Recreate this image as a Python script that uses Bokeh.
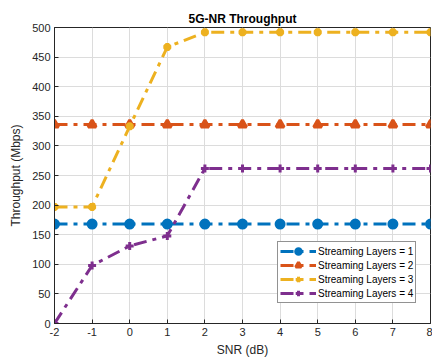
from bokeh.plotting import figure
from bokeh.models import Legend, LegendItem, FixedTicker, Range1d
from bokeh.embed import file_html
from bokeh.resources import INLINE

snr = [-2, -1, 0, 1, 2, 3, 4, 5, 6, 7, 8]
layers1 = [168, 168, 168, 168, 168, 168, 168, 168, 168, 168, 168]
layers2 = [336, 336, 336, 336, 336, 336, 336, 336, 336, 336, 336]
layers3 = [197, 197, 333, 467, 492, 492, 492, 492, 492, 492, 492]
layers4 = [0, 98, 131, 148, 262, 262, 262, 262, 262, 262, 262]
labels = ["Streaming Layers = 1", "Streaming Layers = 2",
          "Streaming Layers = 3", "Streaming Layers = 4"]
colors = ["#0072BD", "#D95319", "#EDB120", "#7E2F8E"]
markers = ["circle", "triangle", "asterisk", "cross"]
yticks = [0, 50, 100, 150, 200, 250, 300, 350, 400, 450, 500]

FONT = "Liberation Sans"
p = figure(width=432, height=361, output_backend="svg", toolbar_location=None,
           x_range=Range1d(-2, 8), y_range=Range1d(0, 500),
           min_border_left=54, min_border_right=2, min_border_top=27,
           min_border_bottom=38)
p.title.text = "5G-NR Throughput"
p.title.align = "center"
p.title.text_font = FONT
p.title.text_font_size = "12px"
p.title.text_font_style = "bold"
p.title.text_color = "#000000"
p.title.offset = 0
p.title.standoff = 4

p.xaxis.ticker = FixedTicker(ticks=snr)
p.xaxis.major_label_overrides = {t: str(t) for t in snr}
p.yaxis.ticker = FixedTicker(ticks=yticks)
p.xaxis.axis_label = "SNR (dB)"
p.yaxis.axis_label = "Throughput (Mbps)"
for ax in (p.xaxis[0], p.yaxis[0]):
    ax.axis_label_text_font = FONT
    ax.axis_label_text_font_size = "12px"
    ax.axis_label_text_font_style = "normal"
    ax.axis_label_text_color = "#262626"
    ax.major_label_text_font = FONT
    ax.major_label_text_font_size = "11px"
    ax.major_label_text_color = "#262626"
    ax.axis_line_color = "#262626"
    ax.major_tick_line_color = "#262626"
    ax.major_tick_in = 4
    ax.major_tick_out = 0
    ax.minor_tick_line_color = None
p.xaxis.axis_label_standoff = 4
p.yaxis.axis_label_standoff = 6
p.xaxis.major_label_standoff = 4
p.yaxis.major_label_standoff = 4
p.outline_line_color = "#262626"
p.outline_line_alpha = 1
p.xgrid.grid_line_color = "#dcdcdc"
p.ygrid.grid_line_color = "#dcdcdc"
p.background_fill_color = "white"
p.border_fill_color = "white"

items = []
for ys, c, m, lab in zip([layers1, layers2, layers3, layers4], colors, markers, labels):
    r1 = p.line(snr, ys, line_color=c, line_width=3, line_dash="13 6 4 6")
    r2 = p.scatter(snr, ys, marker=m, size=8, line_color=c, fill_color=c, line_width=3)
    items.append(LegendItem(label=lab, renderers=[r1, r2]))

legend = Legend(items=items, location=(223, 20), label_text_font=FONT,
                label_text_font_size="10px", label_text_color="#000000",
                glyph_width=36, glyph_height=14, label_height=14, spacing=0,
                padding=2, margin=0, label_standoff=2,
                border_line_color="#262626", background_fill_alpha=1)
p.add_layout(legend, "center")

open("out.html", "w").write(file_html(p, INLINE))
